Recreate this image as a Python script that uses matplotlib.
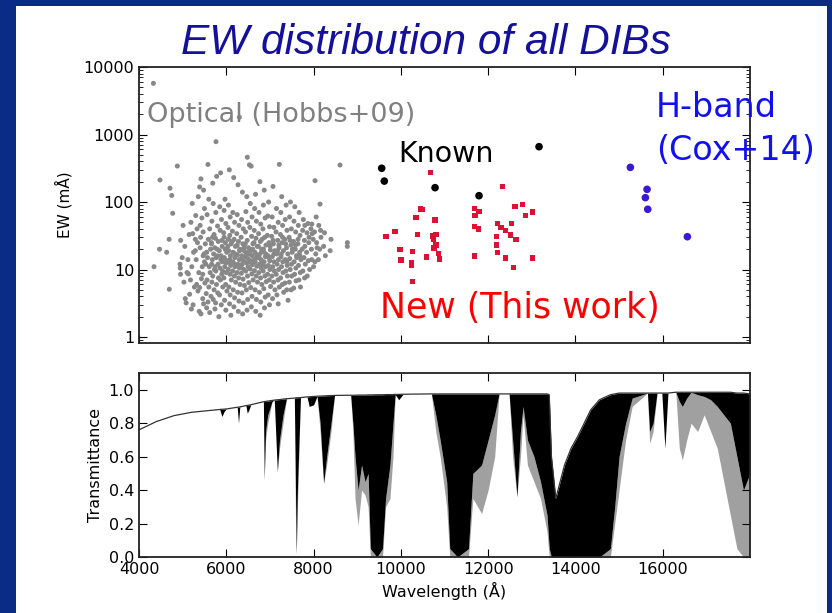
import numpy as np
import matplotlib
matplotlib.use("Agg")
import matplotlib.pyplot as plt
from matplotlib.patches import Rectangle

# ---- DIB equivalent widths (wavelength in A, EW in mA) ----
# optical DIBs (Hobbs+09), one line per ~100 A strip of the cloud
hobbs_wl = [
    4330, 4344, 4481, 4470, 4634, 4710, 4694, 4750, 4772, 4690,
    4878, 4955, 4940, 4945, 4952, 5010, 4990, 5030, 5060, 5080, 5100, 5050,
    5150, 5130, 5180, 5120, 5190, 5160, 5200,
    5230, 5250, 5210, 5270, 5240, 5220, 5290,
    5359, 5300, 5340, 5310, 5370, 5320, 5350, 5380, 5330, 5290,
    5390, 5420, 5440, 5410, 5400, 5450, 5430, 5390, 5460, 5420, 5470, 5400,
    5480, 5500, 5470, 5520, 5490, 5530, 5460, 5510, 5540, 5480, 5550, 5500,
    5580, 5600, 5560, 5620, 5590, 5640, 5570, 5610, 5630, 5560, 5600, 5650, 5580, 5620, 5550, 5660,
    5690, 5700, 5670, 5720, 5660, 5710, 5680, 5730, 5690, 5670, 5720, 5700, 5740, 5665, 5735, 5685,
    5764, 5780, 5760, 5800, 5750, 5790, 5770, 5810, 5760, 5820, 5775, 5805, 5755, 5830, 5795, 5745, 5815,
    5870, 5850, 5890, 5860, 5900, 5840, 5880, 5910, 5855, 5895, 5865, 5920, 5845, 5885, 5905, 5875, 5915,
    5970, 5950, 5990, 5940, 5980, 6010, 5955, 5995, 5965, 6000, 5945, 5985, 6015, 5960, 5990, 5975, 6005, 5950,
    6070, 6050, 6090, 6040, 6080, 6110, 6055, 6095, 6065, 6100, 6045, 6085, 6115, 6060, 6090, 6075, 6105, 6050, 6080, 6035,
    6170, 6150, 6190, 6140, 6180, 6210, 6155, 6195, 6165, 6200, 6145, 6185, 6215, 6160, 6190, 6175, 6205, 6150, 6135,
    6299, 6270, 6250, 6290, 6240, 6280, 6310, 6255, 6295, 6265, 6300, 6245, 6285, 6315, 6260, 6290, 6275, 6305, 6250, 6235,
    6370, 6350, 6390, 6340, 6380, 6410, 6355, 6395, 6365, 6400, 6345, 6385, 6415, 6360, 6390, 6375, 6405, 6350, 6335,
    6482, 6470, 6450, 6490, 6440, 6480, 6510, 6455, 6495, 6465, 6500, 6445, 6485, 6515, 6460, 6490, 6475, 6505, 6450, 6435,
    6530, 6570, 6550, 6590, 6540, 6580, 6610, 6555, 6595, 6565, 6600, 6545, 6585, 6615, 6560, 6590, 6575, 6605, 6550, 6535,
    6670, 6650, 6690, 6640, 6680, 6710, 6655, 6695, 6665, 6700, 6645, 6685, 6715, 6660, 6690, 6675, 6705, 6650, 6635,
    6770, 6750, 6790, 6740, 6780, 6810, 6755, 6795, 6765, 6800, 6745, 6785, 6815, 6760, 6790, 6775, 6805, 6750, 6735, 6820,
    6870, 6850, 6890, 6840, 6880, 6910, 6855, 6895, 6865, 6900, 6845, 6885, 6915, 6860, 6890, 6875, 6905, 6850, 6835,
    6970, 6950, 6990, 6940, 6980, 7010, 6955, 6995, 6965, 7000, 6945, 6985, 7015, 6960, 6990, 6975, 7005,
    7070, 7050, 7090, 7040, 7080, 7110, 7055, 7095, 7065, 7100, 7045, 7085, 7115, 7060, 7090, 7075,
    7215, 7150, 7190, 7140, 7180, 7210, 7155, 7195, 7165, 7200, 7145, 7185, 7215, 7160, 7190, 7175, 7205,
    7270, 7250, 7290, 7240, 7280, 7310, 7255, 7295, 7265, 7300, 7245, 7285, 7315, 7260, 7290,
    7370, 7350, 7390, 7340, 7380, 7410, 7355, 7395, 7365, 7400, 7345, 7385, 7415, 7360, 7390,
    7470, 7450, 7490, 7440, 7480, 7510, 7455, 7495, 7465, 7500, 7445, 7485, 7515, 7460,
    7570, 7550, 7590, 7540, 7580, 7610, 7555, 7595, 7565, 7600, 7545, 7585, 7615,
    7670, 7650, 7690, 7640, 7680, 7710, 7655, 7695, 7665, 7700, 7645, 7685,
    7800, 7750, 7790, 7740, 7780, 7810, 7755, 7795, 7765, 7800,
    7870, 7850, 7890, 7840, 7880, 7910, 7855, 7895,
    7960, 7940, 7990, 7950, 7957, 8000, 7970,
    8033, 8060, 8020, 8070, 8050, 8030, 8080,
    8148, 8120, 8170, 8140, 8110, 8160,
    8250, 8230, 8270, 8400, 8380, 8606, 8774, 8774,
]
hobbs_ew = [
    5730, 11, 212, 20, 18, 160, 5.1, 125, 68, 28,
    341, 27, 12, 10.5, 8.5, 45, 15, 6.5, 3.7, 3.2, 9, 22,
    33, 8.6, 7, 14, 50, 4.3, 2.6,
    34, 18, 11, 5.5, 3, 95, 28,
    120, 63, 25, 14, 9, 6, 4.8, 2.4, 40, 19,
    167, 220, 58, 30, 21, 11, 7.3, 5.4, 3.7, 2.2, 16, 45,
    150, 80, 36, 24, 17, 12, 8.5, 6.3, 4.4, 3.1, 2.7, 13,
    360, 110, 65, 40, 28, 20, 15, 11, 9, 7, 5.5, 4, 3.3, 2.3, 18, 25,
    190, 95, 52, 33, 24, 17, 14, 10, 8, 6.5, 5, 3.6, 2.6, 12, 21, 30,
    783, 240, 70, 44, 29, 20, 15, 12, 9.5, 7.5, 6, 4.5, 3.2, 2.0, 16, 11, 26,
    270, 85, 55, 38, 27, 19, 16, 13, 10.5, 8.5, 7, 5.5, 4.2, 3, 22, 14, 9.5,
    110, 75, 48, 35, 25, 18, 15, 12.5, 11, 9, 7.5, 6, 4.8, 3.5, 2.5, 20, 13.5, 30,
    300, 90, 60, 42, 32, 24, 19, 16, 13, 11.5, 10, 8.5, 7, 5.5, 4.2, 3.1, 2.1, 28, 14, 22,
    230, 70, 50, 37, 28, 22, 18, 15, 12.5, 11, 9.5, 8, 6.5, 5, 3.8, 2.8, 17, 13, 26,
    1800, 180, 65, 45, 34, 26, 20, 16.5, 14, 12, 10.5, 9, 7.5, 6, 4.6, 3.4, 2.4, 19, 23, 11.5,
    140, 55, 40, 30, 24, 19, 16, 13.5, 12, 10, 8.8, 7.2, 5.8, 4.5, 3.2, 2.2, 21, 14.5, 11,
    460, 120, 72, 50, 36, 27, 21, 17.5, 14.5, 12.5, 11, 9.5, 8, 6.4, 5, 3.6, 2.5, 18, 15.5, 24,
    355, 340, 95, 60, 42, 31, 24, 19, 16, 13.5, 11.8, 10.2, 8.6, 7, 5.4, 4, 2.8, 20, 12.8, 17,
    130, 80, 52, 38, 29, 22, 18, 15, 13, 11.2, 9.6, 8, 6.5, 5, 3.6, 2.4, 16.5, 14, 25,
    200, 70, 47, 34, 26, 20, 16.5, 14, 12, 10.5, 9, 7.5, 6, 4.6, 3.3, 2.1, 18, 15, 22, 28,
    150, 90, 58, 40, 30, 23, 18.5, 15.5, 13, 11, 9.5, 8, 6.6, 5.2, 3.9, 2.7, 17, 20, 12,
    100, 62, 43, 32, 25, 19.5, 16, 13.5, 11.5, 10, 8.5, 7, 5.6, 4.2, 3, 15, 22,
    170, 60, 42, 31, 24, 19, 15.5, 13, 11, 9.5, 8, 6.5, 5, 3.7, 17, 27,
    361, 80, 50, 36, 27, 21, 17, 14, 12, 10, 8.5, 7, 5.5, 4.2, 3.1, 19, 23,
    120, 70, 45, 33, 25, 19, 15.5, 13, 11, 9, 7.5, 6, 4.6, 17, 30,
    90, 55, 38, 28, 21, 17, 14, 11.5, 9.5, 8, 6.3, 5, 3.5, 24, 13,
    100, 60, 40, 30, 23, 18, 14.5, 12, 10, 8, 6.5, 5, 20, 27,
    85, 52, 36, 26, 20, 16, 13, 10.5, 8.5, 6.8, 5.3, 23, 15,
    70, 45, 32, 24, 18, 14, 11.5, 9, 7, 5.5, 28, 16,
    45, 38, 27, 20, 15, 12, 9.5, 7.5, 55, 22,
    48, 35, 25, 18, 13.5, 10, 8, 30,
    47, 40, 28, 20, 14, 11, 34,
    207, 60, 36, 25, 17, 13, 21,
    93, 45, 30, 20, 14, 38,
    35, 22, 16, 28, 19, 353, 25, 22,
]

# known DIBs (black)
known_wl = [9561, 9621, 10783, 11791, 13166]
known_ew = [316, 204, 163, 124, 660]

# H-band DIBs (Cox+14)
cox_wl = [15259, 15641, 15603, 15657, 16565]
cox_ew = [326, 154, 116, 78, 30.6]

# new DIBs (this work)
new_wl = [10684, 10455, 10500, 10347, 10783, 9866, 9660, 10386, 10720, 10806,
          10744, 10806, 10760, 9981, 10263, 10859, 10004, 10248, 10248, 10592,
          10882, 10271,
          12325, 11683, 11791, 11698, 11683, 11775, 11683, 12616, 12790, 13010,
          12852, 12538, 12219, 12295, 12402, 12517, 12639, 12196, 12189, 12219,
          12402, 13010, 12584]
new_ew = [272, 79, 77, 59, 54, 37, 30.6, 32.8, 31.3, 32.8,
          28, 23, 20.8, 19.9, 18.4, 17.4, 13.8, 12.8, 11.4, 15.3,
          14.3, 6.6,
          169, 80.6, 72, 62.7, 43, 39.8, 15.8, 86, 93, 71,
          63.5, 48, 48, 42, 37.6, 32.4, 28, 30.6, 23, 17.7,
          14.8, 14.8, 10.8]

# ---- atmospheric transmittance, traced envelopes ----
# wavelength, upper envelope, black lower envelope, grey lower envelope
trans_wl = [4000, 4400, 4800, 5200, 5700, 5850, 5900, 5950, 6000, 6250,
            6280, 6310, 6450, 6480, 6520, 6560, 6850, 6870, 6900, 6950,
            7050, 7100, 7170, 7220, 7300, 7380, 7560, 7590, 7605, 7630,
            7700, 7850, 7900, 8000, 8080, 8150, 8230, 8300, 8400, 8480,
            8850, 8900, 8950, 9020, 9100, 9180, 9250, 9300, 9450, 9580,
            9650, 9750, 9820, 9870, 9950, 10050, 10700, 10800, 10900, 11050,
            11120, 11300, 11550, 11650, 11850, 12000, 12150, 12250, 12480, 12560,
            12660, 12740, 12800, 12900, 13050, 13200, 13350, 13400, 13450, 13550,
            13650, 13750, 13900, 14050, 14200, 14350, 14550, 14800, 14900, 15000,
            15150, 15300, 15650, 15700, 15780, 15870, 15980, 16050, 16120, 16300,
            16380, 16450, 16550, 16650, 16800, 16950, 17100, 17250, 17400, 17550,
            17700, 17850, 18000]
trans_top = [0.76, 0.81, 0.845, 0.865, 0.878, 0.882, 0.883, 0.884, 0.885, 0.895,
             0.896, 0.897, 0.905, 0.906, 0.908, 0.91, 0.928, 0.929, 0.93, 0.932,
             0.936, 0.938, 0.94, 0.941, 0.944, 0.946, 0.95, 0.951, 0.952, 0.952,
             0.953, 0.957, 0.958, 0.96, 0.961, 0.962, 0.963, 0.964, 0.965, 0.966,
             0.967, 0.967, 0.967, 0.968, 0.968, 0.968, 0.969, 0.969, 0.97, 0.97,
             0.971, 0.971, 0.971, 0.972, 0.972, 0.973, 0.975, 0.975, 0.975, 0.975,
             0.975, 0.975, 0.975, 0.975, 0.975, 0.975, 0.975, 0.975, 0.975, 0.975,
             0.975, 0.975, 0.975, 0.975, 0.975, 0.975, 0.975, 0.97, 0.60, 0.35,
             0.45, 0.55, 0.65, 0.72, 0.80, 0.88, 0.94, 0.97, 0.975, 0.98,
             0.98, 0.98, 0.98, 0.98, 0.98, 0.98, 0.98, 0.98, 0.98, 0.985,
             0.985, 0.985, 0.985, 0.985, 0.985, 0.985, 0.985, 0.985, 0.985, 0.985,
             0.98, 0.98, 0.975]
trans_black = [0.76, 0.81, 0.845, 0.865, 0.878, 0.882, 0.84, 0.87, 0.885, 0.895,
               0.80, 0.897, 0.905, 0.86, 0.88, 0.91, 0.928, 0.46, 0.75, 0.85,
               0.93, 0.938, 0.51, 0.70, 0.85, 0.946, 0.95, 0.30, 0.02, 0.40,
               0.953, 0.957, 0.90, 0.91, 0.961, 0.80, 0.44, 0.60, 0.80, 0.966,
               0.967, 0.80, 0.60, 0.40, 0.55, 0.45, 0.50, 0.05, 0.0, 0.05,
               0.35, 0.55, 0.80, 0.972, 0.94, 0.973, 0.975, 0.85, 0.70, 0.45,
               0.05, 0.0, 0.05, 0.50, 0.55, 0.70, 0.85, 0.975, 0.975, 0.70,
               0.36, 0.75, 0.90, 0.70, 0.60, 0.45, 0.25, 0.05, 0.0, 0.0,
               0.0, 0.0, 0.0, 0.0, 0.0, 0.0, 0.0, 0.05, 0.30, 0.60,
               0.80, 0.95, 0.98, 0.75, 0.80, 0.98, 0.98, 0.65, 0.98, 0.985,
               0.93, 0.90, 0.95, 0.985, 0.97, 0.96, 0.94, 0.90, 0.85, 0.80,
               0.60, 0.40, 0.50]
trans_grey = [0.76, 0.81, 0.845, 0.865, 0.878, 0.882, 0.84, 0.87, 0.885, 0.895,
              0.80, 0.897, 0.905, 0.86, 0.88, 0.91, 0.928, 0.46, 0.70, 0.80,
              0.93, 0.938, 0.51, 0.65, 0.80, 0.946, 0.95, 0.10, 0.02, 0.30,
              0.953, 0.957, 0.90, 0.91, 0.961, 0.75, 0.44, 0.55, 0.75, 0.966,
              0.967, 0.75, 0.35, 0.19, 0.40, 0.37, 0.30, 0.0, 0.0, 0.0,
              0.30, 0.35, 0.60, 0.972, 0.94, 0.973, 0.975, 0.75, 0.60, 0.30,
              0.0, 0.0, 0.0, 0.35, 0.26, 0.40, 0.60, 0.975, 0.975, 0.60,
              0.36, 0.60, 0.85, 0.55, 0.45, 0.35, 0.15, 0.0, 0.0, 0.0,
              0.0, 0.0, 0.0, 0.0, 0.0, 0.0, 0.0, 0.0, 0.20, 0.40,
              0.70, 0.90, 0.98, 0.68, 0.75, 0.98, 0.98, 0.65, 0.98, 0.985,
              0.65, 0.58, 0.70, 0.80, 0.75, 0.85, 0.75, 0.65, 0.45, 0.25,
              0.05, 0.0, 0.0]

plt.rcParams['font.family'] = 'DejaVu Sans'
plt.rcParams['xtick.direction'] = 'in'
plt.rcParams['ytick.direction'] = 'in'
plt.rcParams['xtick.top'] = True
plt.rcParams['ytick.right'] = True

fig = plt.figure(figsize=(8.32, 6.13), dpi=100)
fig.patch.set_facecolor('#0a2c86')
fig.patches.append(Rectangle((16 / 832, 0), 811 / 832, 1 - 6 / 613,
                             transform=fig.transFigure, facecolor='white',
                             edgecolor='none', zorder=-5))

fig.text(0.512, 1 - 54 / 613, 'EW distribution of all DIBs',
         family='Liberation Sans', style='italic', fontsize=30.5,
         color='#14109c', ha='center', va='baseline')

ax1 = fig.add_axes([139 / 832, 1 - 343 / 613, 611 / 832, 276 / 613])
ax2 = fig.add_axes([139 / 832, 1 - 557 / 613, 611 / 832, 184 / 613])

# --- top panel: EW scatter ---
ax1.set_yscale('log')
ax1.scatter(hobbs_wl, hobbs_ew, s=13, color='#888888', edgecolors='none', zorder=2)
ax1.scatter(known_wl, known_ew, s=30, color='black', edgecolors='none', zorder=3)
ax1.scatter(new_wl, new_ew, s=14, marker='s', color='#dd1133', edgecolors='none', zorder=3)
ax1.scatter(cox_wl, cox_ew, s=30, color='#3a18d6', edgecolors='none', zorder=3)
ax1.set_xlim(4000, 18000)
ax1.set_ylim(0.815, 10000)
ax1.set_xticks(range(4000, 18000, 2000))
ax1.set_xticklabels([])
ax1.set_yticks([1, 10, 100, 1000, 10000])
ax1.set_yticklabels(['1', '10', '100', '1000', '10000'])
ax1.set_ylabel('EW (mÅ)', fontsize=11, labelpad=8)
ax1.tick_params(which='major', length=6, labelsize=11.5)
ax1.tick_params(which='minor', length=3)

ax1.text(4183, 1530, 'Optical (Hobbs+09)', color='#808080', fontsize=19.5,
         ha='left', va='baseline')
ax1.text(9935, 392, 'Known', color='black', fontsize=20.5, ha='left', va='baseline')
ax1.text(9522, 1.91, 'New (This work)', color='#ff0000', fontsize=25,
         ha='left', va='baseline')
ax1.text(15847, 1816, 'H-band', color='#1010f0', fontsize=24, ha='left', va='baseline')
ax1.text(15847, 419, '(Cox+14)', color='#1010f0', fontsize=24, ha='left', va='baseline')

# --- bottom panel: transmittance ---
ax2.fill_between(trans_wl, trans_grey, trans_black, color='#a0a0a0', lw=0)
ax2.fill_between(trans_wl, trans_black, trans_top, color='black', lw=0)
ax2.plot(trans_wl, trans_top, color='#333333', lw=0.9)
ax2.set_xlim(4000, 18000)
ax2.set_ylim(0, 1.1)
ax2.set_xticks(range(4000, 18000, 2000))
ax2.set_yticks([0.0, 0.2, 0.4, 0.6, 0.8, 1.0])
ax2.set_xlabel('Wavelength (Å)', fontsize=11.5)
ax2.set_ylabel('Transmittance', fontsize=11.5)
ax2.tick_params(length=6, labelsize=11.5)

for ax in (ax1, ax2):
    for sp in ax.spines.values():
        sp.set_linewidth(1.3)
        sp.set_color('#222222')

fig.savefig('out.png', dpi=100, facecolor=fig.get_facecolor())
